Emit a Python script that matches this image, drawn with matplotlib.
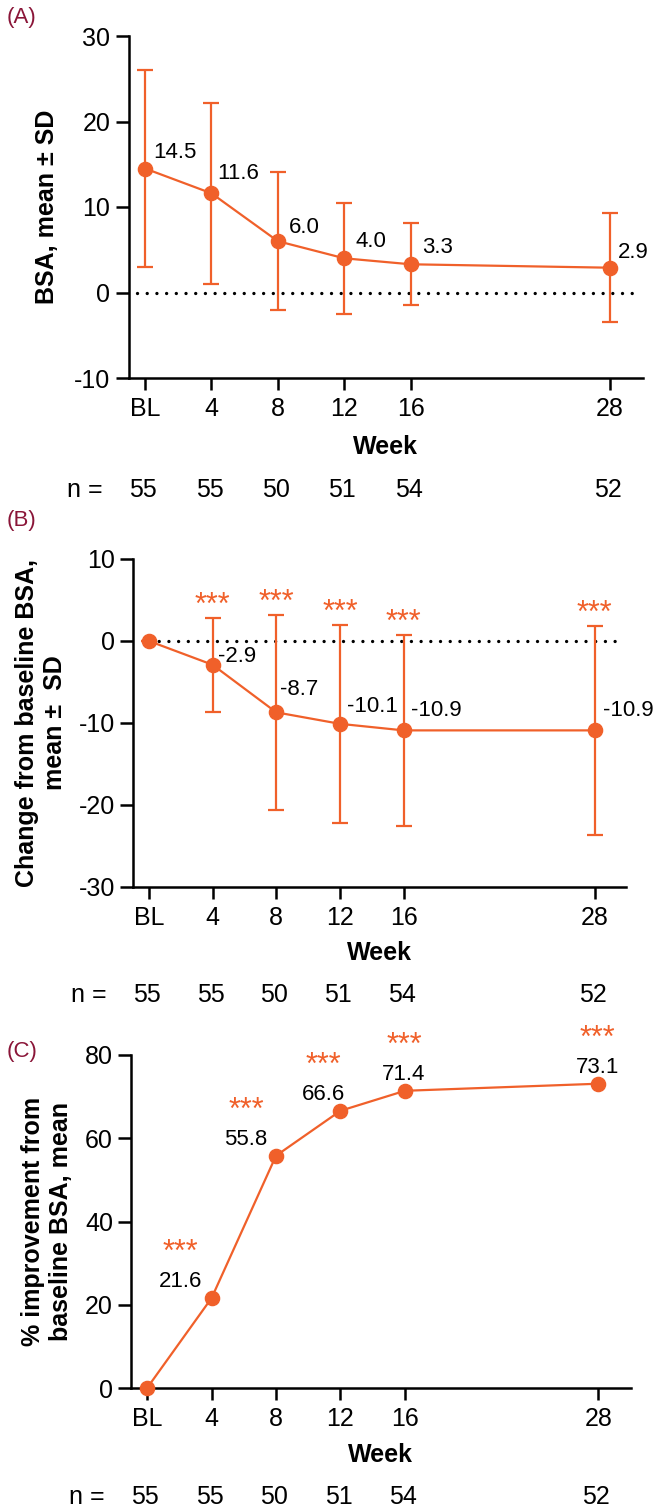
import matplotlib
matplotlib.use("Agg")
import matplotlib.pyplot as plt

plt.rcParams["font.family"] = ["Liberation Sans", "DejaVu Sans"]
plt.rcParams["axes.unicode_minus"] = False

# weeks on a linear axis, BL = week 0
weeks = [0, 4, 8, 12, 16, 28]
week_labels = ["BL", "4", "8", "12", "16", "28"]
n_counts = [55, 55, 50, 51, 54, 52]

# (A) absolute BSA
bsa_mean = [14.5, 11.6, 6.0, 4.0, 3.3, 2.9]
bsa_sd = [11.5, 10.6, 8.1, 6.5, 4.8, 6.4]

# (B) change from baseline
chg_mean = [0.0, -2.9, -8.7, -10.1, -10.9, -10.9]
chg_sd = [0.0, 5.7, 11.9, 12.1, 11.6, 12.7]

# (C) percent improvement from baseline
pct_mean = [0.0, 21.6, 55.8, 66.6, 71.4, 73.1]

# which points carry the *** marker
signif = [False, True, True, True, True, True]

ORANGE = "#F0602A"
MAROON = "#8A1538"
W, H = 653, 1507
TICK_FS = 18
VAL_FS = 16

fig = plt.figure(figsize=(W / 100, H / 100), dpi=100)


def make_axes(left, top, right, bottom):
    # pixel box -> figure fraction
    return fig.add_axes([left / W, 1 - bottom / H, (right - left) / W, (bottom - top) / H])


def style_axes(ax, ylim, yticks, n_offset, week_offset):
    ax.set_xlim(-1, 30)
    ax.set_ylim(*ylim)
    ax.set_yticks(yticks)
    ax.set_xticks(weeks, week_labels)
    for s in ("top", "right"):
        ax.spines[s].set_visible(False)
    for s in ("left", "bottom"):
        ax.spines[s].set_linewidth(1.8)
    ax.tick_params(axis="y", length=9.5, width=1.8, labelsize=TICK_FS, pad=3.5)
    ax.tick_params(axis="x", length=8.9, width=1.8, labelsize=TICK_FS, pad=5)
    ax.annotate("Week", xy=(0.5, 0), xycoords="axes fraction",
                xytext=(0, -week_offset), textcoords="offset pixels",
                ha="center", va="center", fontsize=18, fontweight="bold")
    ax.annotate("n =", xy=(0, 0), xycoords="axes fraction",
                xytext=(-44, -n_offset), textcoords="offset pixels",
                ha="center", va="center", fontsize=TICK_FS)
    for wk, n in zip(weeks, n_counts):
        ax.annotate(str(n), xy=(wk, 0), xycoords=("data", "axes fraction"),
                    xytext=(-2, -n_offset), textcoords="offset pixels",
                    ha="center", va="center", fontsize=TICK_FS)


def zero_line(ax, start, end):
    ax.plot([start, end], [0, 0], color="black", lw=2.4,
            linestyle=(0, (0.01, 2.9)), dash_capstyle="round", zorder=1)


def stars(ax, x, y, dx, dy):
    ax.annotate("***", xy=(x, y), xytext=(dx, dy), textcoords="offset pixels",
                ha="center", va="baseline", fontsize=22, color=ORANGE)


err_kw = dict(color=ORANGE, lw=1.6, elinewidth=1.6, capsize=5.6, capthick=1.6,
              marker="o", ms=10.2, zorder=3, clip_on=False)

# ---- (A) ----
axA = make_axes(128.5, 36, 643, 378)
style_axes(axA, (-10, 30), [-10, 0, 10, 20, 30], 112, 69)
zero_line(axA, -0.5, 29.6)
axA.errorbar(weeks, bsa_mean, yerr=bsa_sd, **err_kw)
offs_a = [(8, 11), (5.5, 14), (11, 8), (11, 11), (11, 11), (8.5, 9.5)]
for wk, m, (dx, dy) in zip(weeks, bsa_mean, offs_a):
    axA.annotate(f"{m:.1f}", xy=(wk, m), xytext=(dx, dy), textcoords="offset pixels",
                 ha="left", va="baseline", fontsize=VAL_FS)
axA.text(-0.1586, 0.5, "BSA, mean ± SD", transform=axA.transAxes, rotation=90,
         ha="center", va="center", fontsize=18, fontweight="bold")
fig.text(7 / W, 1 - 17 / H, "(A)", ha="left", va="center", fontsize=16, color=MAROON)

# ---- (B) ----
axB = make_axes(133, 559, 626.4, 887)
style_axes(axB, (-30, 10), [-30, -20, -10, 0, 10], 108, 66)
zero_line(axB, 0, 29.3)
axB.errorbar(weeks, chg_mean, yerr=chg_sd, **err_kw)
offs_b = [None, (5.5, 2.5), (4, 17), (7, 12), (7, 14), (8, 14)]
for wk, m, sd, sig, off in zip(weeks, chg_mean, chg_sd, signif, offs_b):
    if off is not None:
        axB.annotate(f"{m:.1f}", xy=(wk, m), xytext=off, textcoords="offset pixels",
                     ha="left", va="baseline", fontsize=VAL_FS)
    if sig:
        stars(axB, wk, m + sd, 0, 4)
axB.text(-0.186, 0.5, "Change from baseline BSA,\nmean ±  SD", transform=axB.transAxes,
         rotation=90, ha="center", va="center", fontsize=18, fontweight="bold",
         linespacing=1.2)
fig.text(7 / W, 1 - 520 / H, "(B)", ha="left", va="center", fontsize=16, color=MAROON)

# ---- (C) ----
axC = make_axes(131, 1055, 630.5, 1388)
style_axes(axC, (0, 80), [0, 20, 40, 60, 80], 109, 67)
axC.plot(weeks, pct_mean, color=ORANGE, lw=1.6, marker="o", ms=10.2, zorder=3, clip_on=False)
offs_c = [None, -31, -30, -17, -1, -1]
for wk, m, sig, dx in zip(weeks, pct_mean, signif, offs_c):
    if dx is None:
        continue
    axC.annotate(f"{m:.1f}", xy=(wk, m), xytext=(dx, 11), textcoords="offset pixels",
                 ha="center", va="baseline", fontsize=VAL_FS)
    if sig:
        stars(axC, wk, m, dx, 37)
axC.text(-0.168, 0.5, "% improvement from\nbaseline BSA, mean", transform=axC.transAxes,
         rotation=90, ha="center", va="center", fontsize=18, fontweight="bold",
         linespacing=1.2)
fig.text(7 / W, 1 - 1052 / H, "(C)", ha="left", va="center", fontsize=16, color=MAROON)

fig.savefig("out.png", dpi=100)
